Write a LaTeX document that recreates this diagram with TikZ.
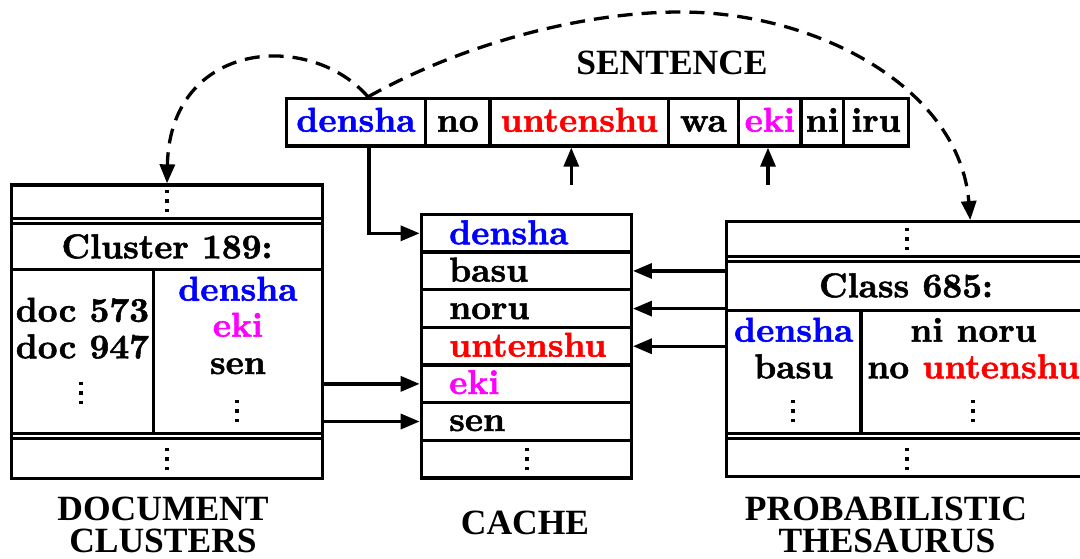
\documentclass[tikz,border=0pt]{standalone}
\usepackage{fontspec}
\newfontfamily\capsfont{Liberation Serif}
\newfontfamily\wordfam{lmroman10-bold.otf}[FakeBold=1.5]
\usetikzlibrary{arrows.meta}
\definecolor{wblue}{RGB}{0,0,255}
\definecolor{wred}{RGB}{255,0,0}
\definecolor{wmag}{RGB}{255,0,255}
\newcommand\wordfont{\fontsize{34.5}{40}\selectfont\wordfam}
\newcommand\headfont{\fontsize{35.5}{42}\selectfont\capsfont\bfseries}

\begin{document}
\begin{tikzpicture}[x=1pt,y=-1pt,
  boxpart/.style={draw, line width=3.3pt, inner sep=0pt, anchor=center},
  scell/.style={boxpart, minimum height=47.5pt, text height=23pt, text depth=4pt, font=\wordfont},
  crow/.style={boxpart, minimum width=210pt, minimum height=37.64pt},
  word/.style={inner sep=0pt, anchor=base, font=\wordfont},
  lword/.style={word, anchor=base west},
  heading/.style={inner sep=0pt, anchor=base, font=\headfont},
  conn/.style={line width=3.3pt, -{Triangle[length=19pt,width=15pt]}},
  dconn/.style={conn, dash pattern=on 15pt off 9pt},
  vdots/.pic={\foreach \k in {-1,0,1} \fill (-1.65,\k*9.5-1.65) rectangle ++(3.3,3.3);}
]
\useasboundingbox (0,0) rectangle (1080,559);
\clip (0,0) rectangle (1080,559);

% ---------- sentence ----------
\node[heading] (senttitle) at (672,75) {SENTENCE};
\node[scell, minimum width=139pt,  text=wblue] (s1) at (356,122.25)    {densha};
\node[scell, minimum width=64.5pt]             (s2) at (457.75,122.25) {no};
\node[scell, minimum width=178.5pt, text=wred] (s3) at (579.25,122.25) {untenshu};
\node[scell, minimum width=70pt]               (s4) at (703.5,122.25)  {wa};
\node[scell, minimum width=62.5pt, text=wmag]  (s5) at (769.75,122.25) {eki};
\node[scell, minimum width=42.5pt]             (s6) at (822.25,122.25) {ni};
\node[scell, minimum width=65pt]               (s7) at (876,122.25)    {iru};

% ---------- cache ----------
\node[crow] (c1) at (526.3,233.32) {};
\node[crow] (c2) at (526.3,270.96) {};
\node[crow] (c3) at (526.3,308.6)  {};
\node[crow] (c4) at (526.3,346.24) {};
\node[crow] (c5) at (526.3,383.88) {};
\node[crow] (c6) at (526.3,421.52) {};
\node[crow] (c7) at (526.3,459.16) {};
\node[lword, text=wblue] (c1t) at (449,244.3) {densha};
\node[lword]             (c2t) at (449,281.6) {basu};
\node[lword]             (c3t) at (449,319)   {noru};
\node[lword, text=wred]  (c4t) at (449,356.7) {untenshu};
\node[lword, text=wmag]  (c5t) at (449,394)   {eki};
\node[lword]             (c6t) at (449,431)   {sen};
\pic at (527,459) {vdots};
\node[heading] (cachetitle) at (525,534) {CACHE};

% ---------- document clusters ----------
\node[boxpart, minimum width=311pt, minimum height=293.5pt] (lbox) at (167,331.75) {};
\node[boxpart, minimum width=311pt, minimum height=33.3pt] (lt) at (167,201.65) {};
\node[boxpart, minimum width=311pt, minimum height=46pt] (lc) at (167,246.5) {};
\node[boxpart, minimum width=141.8pt, minimum height=164pt] (lbl) at (82.4,351.5) {};
\node[boxpart, minimum width=169.2pt, minimum height=164pt] (lbr) at (237.9,351.5) {};
\node[boxpart, minimum width=311pt, minimum height=40pt] (lb) at (167,458.5) {};
\node[word] (lct) at (167,258.3) {Cluster 189:};
\node[word] (ld1) at (82.4,321.7) {doc 573};
\node[word] (ld2) at (82.4,358.3) {doc 947};
\node[word, text=wblue] (lw1) at (237.9,300.7) {densha};
\node[word, text=wmag]  (lw2) at (237.9,336.7) {eki};
\node[word]             (lw3) at (237.9,374)   {sen};
\pic at (167,201) {vdots};
\pic at (81,393) {vdots};
\pic at (237,411) {vdots};
\pic at (167,459) {vdots};
\node[heading] (dct1) at (163,520) {DOCUMENT};
\node[heading] (dct2) at (163,552.5) {CLUSTERS};

% ---------- probabilistic thesaurus ----------
\node[boxpart, minimum width=359.5pt, minimum height=254.8pt] (rbox) at (906.25,349.1) {};
\node[boxpart, minimum width=359.5pt, minimum height=34.8pt] (rt) at (906.25,239.1) {};
\node[boxpart, minimum width=359.5pt, minimum height=48.5pt] (rc) at (906.25,285.95) {};
\node[boxpart, minimum width=134.5pt, minimum height=123.3pt] (rbl) at (793.75,371.85) {};
\node[boxpart, minimum width=225pt, minimum height=123.3pt] (rbr) at (973.5,371.85) {};
\node[boxpart, minimum width=359.5pt, minimum height=38pt] (rb) at (906.25,457.5) {};
\node[word] (rct) at (906,297.3) {Class 685:};
\node[word, text=wblue] (rw1) at (793.75,341.7) {densha};
\node[word]             (rw2) at (793.75,378.3) {basu};
\node[word] (rw3) at (973.5,341.7) {ni noru};
\node[word] (rw4) at (973.5,378.3) {no \textcolor{wred}{untenshu}};
\pic at (907,239) {vdots};
\pic at (793,411) {vdots};
\pic at (973,411) {vdots};
\pic at (907,459) {vdots};
\node[heading] (pt1) at (886,520) {PROBABILISTIC};
\node[heading] (pt2) at (887,552.5) {THESAURUS};

% ---------- connectors ----------
\coordinate (u3) at (571.3,185);
\coordinate (u5) at (768,185);
\coordinate (arctop) at (680,12);
\draw[conn] ([xshift=13pt]s1.south) |- (c1.west);
\draw[conn] (u3) -- (u3 |- s3.south);
\draw[conn] (u5) -- (u5 |- s5.south);
\draw[conn] (lbox.east |- c5.west) -- (c5.west);
\draw[conn] (lbox.east |- c6.west) -- (c6.west);
\draw[conn] (rbox.west |- c2.east) -- (c2.east);
\draw[conn] (rbox.west |- c3.east) -- (c3.east);
\draw[conn] (rbox.west |- c4.east) -- (c4.east);
\draw[dconn] ([xshift=12pt]s1.north) .. controls (310,30) and (170,40) .. (lbox.north);
\draw[dconn] ([xshift=12pt]s1.north) .. controls (470,40) and (590,12) .. (arctop)
  .. controls (820,12) and (960,90) .. ([xshift=64pt]rbox.north);
\end{tikzpicture}
\end{document}
